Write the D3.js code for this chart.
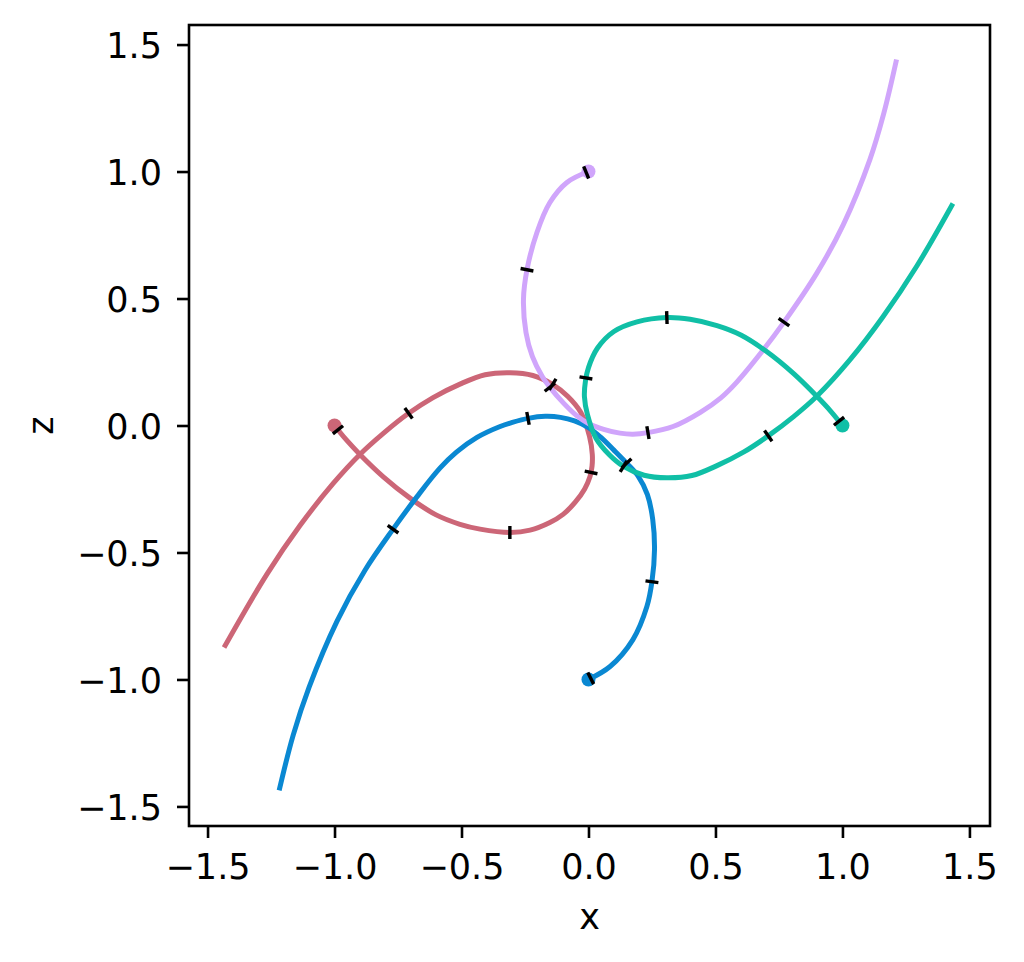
<!DOCTYPE html>
<html>
<head>
<meta charset="utf-8">
<script src="https://cdn.jsdelivr.net/npm/d3@7"></script>
<style>
  html, body { margin: 0; padding: 0; background: #fff; }
  svg { display: block; }
  text { font-family: "DejaVu Sans", sans-serif; fill: #000; }
</style>
</head>
<body>
<svg id="chart" width="1024" height="962"></svg>
<script>
// curves, [x, z], in drawing order from the start dot
var redPath = [
  [-1.000, 0.000], [-0.955, -0.055], [-0.900, -0.114], [-0.809, -0.201],
  [-0.700, -0.288], [-0.600, -0.352], [-0.506, -0.389], [-0.427, -0.408],
  [-0.309, -0.421], [-0.230, -0.412], [-0.152, -0.382], [-0.100, -0.350],
  [-0.053, -0.303], [-0.015, -0.250], [0.006, -0.201], [0.014, -0.160],
  [0.015, -0.114], [0.004, -0.043],
  [-0.030, 0.051], [-0.081, 0.114], [-0.140, 0.161], [-0.219, 0.197],
  [-0.309, 0.208], [-0.407, 0.200], [-0.506, 0.163], [-0.612, 0.110],
  [-0.711, 0.046], [-0.809, -0.032], [-0.900, -0.114], [-1.006, -0.229],
  [-1.136, -0.394], [-1.266, -0.585], [-1.435, -0.874]
];
var bluePath = [
  [0.000, -1.000], [0.085, -0.949], [0.175, -0.843], [0.230, -0.713],
  [0.250, -0.614], [0.260, -0.488], [0.253, -0.370], [0.232, -0.272],
  [0.196, -0.200], [0.150, -0.148], [0.100, -0.097], [0.048, -0.046],
  [0.000, -0.008], [-0.055, 0.018], [-0.110, 0.032], [-0.170, 0.036],
  [-0.238, 0.028], [-0.300, 0.012], [-0.348, -0.004], [-0.439, -0.047],
  [-0.520, -0.105], [-0.585, -0.168], [-0.675, -0.280], [-0.770, -0.409],
  [-0.880, -0.570], [-0.990, -0.770], [-1.100, -1.030], [-1.163, -1.220],
  [-1.218, -1.437]
];
var purplePath = [
  [0.000, 1.000], [-0.085, 0.957], [-0.152, 0.878], [-0.203, 0.760],
  [-0.242, 0.614], [-0.256, 0.496], [-0.246, 0.366], [-0.221, 0.272],
  [-0.182, 0.193], [-0.150, 0.148], [-0.100, 0.090], [-0.048, 0.040],
  [0.000, 0.008], [0.060, -0.015], [0.124, -0.030], [0.175, -0.034],
  [0.234, -0.028], [0.333, -0.004], [0.439, 0.051], [0.520, 0.108],
  [0.585, 0.172], [0.687, 0.296], [0.767, 0.403], [0.898, 0.598],
  [1.003, 0.790], [1.108, 1.047], [1.163, 1.230], [1.213, 1.441]
];
var tealPath = [
  [1.000, 0.000], [0.955, 0.055], [0.900, 0.114], [0.809, 0.203],
  [0.700, 0.292], [0.600, 0.356], [0.506, 0.393], [0.400, 0.418],
  [0.309, 0.425], [0.191, 0.408], [0.100, 0.370], [0.035, 0.304],
  [0.000, 0.228], [-0.012, 0.175], [-0.016, 0.114], [-0.004, 0.043],
  [0.030, -0.051], [0.081, -0.114], [0.138, -0.161], [0.219, -0.196],
  [0.309, -0.206], [0.407, -0.197], [0.506, -0.158], [0.612, -0.104],
  [0.709, -0.040], [0.809, 0.036], [0.900, 0.116], [1.030, 0.259],
  [1.159, 0.427], [1.293, 0.628], [1.435, 0.874]
];

// little black marks along each curve
var redMarks = [[-0.985, -0.016], [-0.309, -0.421], [0.012, -0.185], [-0.140, 0.163], [-0.711, 0.051]];
var blueMarks = [[0.008, -0.994], [0.246, -0.614], [0.150, -0.148], [-0.238, 0.028], [-0.770, -0.409]];
var purpleMarks = [[-0.008, 0.994], [-0.242, 0.614], [-0.152, 0.150], [0.234, -0.028], [0.766, 0.409]];
var tealMarks = [[0.985, 0.016], [0.309, 0.429], [-0.010, 0.187], [0.138, -0.161], [0.709, -0.043]];

var axisTicks = [-1.5, -1.0, -0.5, 0.0, 0.5, 1.0, 1.5];
var seriesColors = ['#cc6677', '#0a88d2', '#d0a5fb', '#10bfa6'];

var series = [
  { path: redPath, marks: redMarks, color: seriesColors[0] },
  { path: bluePath, marks: blueMarks, color: seriesColors[1] },
  { path: purplePath, marks: purpleMarks, color: seriesColors[2] },
  { path: tealPath, marks: tealMarks, color: seriesColors[3] }
];

var box = { left: 189, right: 990, top: 25, bottom: 826 };
var svg = d3.select('#chart');

var x = d3.scaleLinear().domain([-1.573, 1.581]).range([box.left, box.right]);
var y = d3.scaleLinear().domain([-1.577, 1.577]).range([box.bottom, box.top]);
var fmt = d3.format('.1f');

// axes
var gx = svg.append('g').attr('transform', 'translate(0,' + box.bottom + ')')
  .call(d3.axisBottom(x).tickValues(axisTicks).tickFormat(fmt).tickSize(12).tickSizeOuter(0).tickPadding(16));
var gy = svg.append('g').attr('transform', 'translate(' + box.left + ',0)')
  .call(d3.axisLeft(y).tickValues(axisTicks).tickFormat(fmt).tickSize(12).tickSizeOuter(0).tickPadding(15));

[gx, gy].forEach(function(g) {
  g.select('.domain').remove();
  g.selectAll('.tick line').attr('stroke', '#000').attr('stroke-width', 2.6);
  g.selectAll('.tick text').attr('font-size', 35).attr('font-family', '"DejaVu Sans", sans-serif').attr('fill', '#000');
});
gy.selectAll('.tick text').attr('dy', '0.38em');

// frame
svg.append('rect')
  .attr('x', box.left).attr('y', box.top)
  .attr('width', box.right - box.left).attr('height', box.bottom - box.top)
  .attr('fill', 'none').attr('stroke', '#000').attr('stroke-width', 2.6);

// axis titles
svg.append('text').attr('x', (box.left + box.right) / 2).attr('y', 929)
  .attr('text-anchor', 'middle').attr('font-size', 35).text('x');
svg.append('text').attr('transform', 'translate(53,' + ((box.top + box.bottom) / 2) + ') rotate(-90)')
  .attr('text-anchor', 'middle').attr('font-size', 35).text('z');

var plot = svg.append('g');
var line = d3.line()
  .x(function(d) { return x(d[0]); })
  .y(function(d) { return y(d[1]); })
  .curve(d3.curveCatmullRom.alpha(0.5));

var curves = plot.selectAll('.curve')
  .data(series)
  .enter()
  .append('path')
    .attr('class', 'curve')
    .attr('d', function(s) { return line(s.path); })
    .attr('fill', 'none')
    .attr('stroke', function(s) { return s.color; })
    .attr('stroke-width', 5)
    .attr('stroke-linecap', 'butt');

// start dots
plot.selectAll('.start')
  .data(series)
  .enter()
  .append('circle')
    .attr('class', 'start')
    .attr('cx', function(s) { return x(s.path[0][0]); })
    .attr('cy', function(s) { return y(s.path[0][1]); })
    .attr('r', 7)
    .attr('fill', function(s) { return s.color; });

// snap a mark onto its curve and get the direction there
function snapToCurve(node, px, py) {
  var len = node.getTotalLength(), best = 0, bestD = Infinity;
  for (var s = 0; s <= len; s += 0.5) {
    var p = node.getPointAtLength(s);
    var d = (p.x - px) * (p.x - px) + (p.y - py) * (p.y - py);
    if (d < bestD) { bestD = d; best = s; }
  }
  var a = node.getPointAtLength(Math.max(0, best - 2));
  var b = node.getPointAtLength(Math.min(len, best + 2));
  var c = node.getPointAtLength(best);
  return { x: c.x, y: c.y, angle: Math.atan2(b.y - a.y, b.x - a.x) };
}

var half = 6.5;
curves.each(function(s) {
  var node = this;
  s.marks.forEach(function(m) {
    var t = snapToCurve(node, x(m[0]), y(m[1]));
    var nx = -Math.sin(t.angle) * half, ny = Math.cos(t.angle) * half;
    plot.append('line')
      .attr('class', 'mark')
      .attr('x1', t.x - nx).attr('y1', t.y - ny)
      .attr('x2', t.x + nx).attr('y2', t.y + ny)
      .attr('stroke', '#000')
      .attr('stroke-width', 3.4);
  });
});
</script>
</body>
</html>
